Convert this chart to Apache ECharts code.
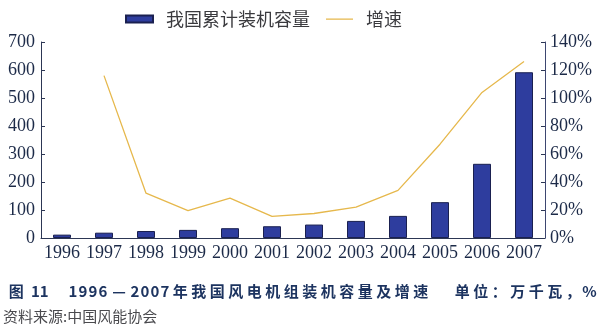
<!DOCTYPE html>
<html>
<head>
<meta charset="utf-8">
<script src="https://cdn.jsdelivr.net/npm/echarts@6/dist/echarts.min.js"></script>
<style>
  html, body { margin: 0; padding: 0; background: #fff; }
  #chart { width: 600px; height: 328px; }
</style>
</head>
<body>
<div id="chart"></div>
<script>
// Years on the category axis
const years = ['1996', '1997', '1998', '1999', '2000', '2001', '2002', '2003', '2004', '2005', '2006', '2007'];
// Cumulative installed wind capacity, 万千瓦
const capacity = [12, 19, 25, 29, 35, 42, 48, 61, 79, 128, 265, 592];
// Year-on-year growth, %
const growth = [null, 116, 32, 19.5, 28.5, 15.5, 17.5, 22, 34, 67, 104, 126];
// Axis tick settings
const leftTicks = { min: 0, max: 700, interval: 100 };
const rightTicks = { min: 0, max: 140, interval: 20 };

const capName = '我国累计装机容量';
const growthName = '增速';
const captionPieces = [
  { text: '图', x: 7, split: true },
  { text: '11', x: 31, split: false },
  { text: '1996—2007 年我国风电机组装机容量及增速', x: 68, split: true },
  { text: '单位：万千瓦，%', x: 453, split: true }
];
const sourceText = '资料来源:中国风能协会';

const axisColor = '#2c3654';
const labelColor = '#1c2a48';
const serif = '"Liberation Serif", "DejaVu Serif", serif';
const cjk = '"Noto Sans CJK SC", "Noto Sans", sans-serif';

// Spaced caption: each glyph sits centred in its own cell
function pitchOf(ch) {
  if (/[0-9]/.test(ch)) return 10;
  if (ch === '—') return 22;
  if (ch === ' ') return 1;
  if (ch === '%') return 14;
  return 18.5;
}
function captionElements(pieces, y) {
  const els = [];
  const style = {
    fill: '#1d3460',
    font: 'bold 15px ' + cjk,
    textVerticalAlign: 'middle'
  };
  pieces.forEach(p => {
    if (!p.split) {
      els.push({ type: 'text', x: p.x, y: y, style: Object.assign({ text: p.text, textAlign: 'left' }, style) });
      return;
    }
    let x = p.x;
    for (const ch of p.text) {
      const w = pitchOf(ch);
      if (ch !== ' ') {
        els.push({
          type: 'text',
          x: x + w / 2,
          y: y,
          style: Object.assign({ text: ch, textAlign: 'center' }, style)
        });
      }
      x += w;
    }
  });
  return els;
}

// Plain thin line used as the legend key of the growth series
const lineKey = 'path://M0,0H1V0.01H0Z M0,3H30V4.2H0Z M0,7H1V7.01H0Z';

const chart = echarts.init(document.getElementById('chart'), null, { renderer: 'canvas' });

chart.setOption({
  animation: false,
  backgroundColor: '#ffffff',
  grid: { left: 41, right: 55, top: 42, bottom: 90, containLabel: false },
  legend: {
    left: 120,
    top: 5,
    itemWidth: 27,
    itemHeight: 7,
    itemGap: 16,
    data: [
      { name: capName, icon: 'rect' },
      { name: growthName, icon: lineKey }
    ],
    textStyle: {
      fontFamily: cjk,
      fontSize: 18,
      color: '#3a3a3e',
      padding: [0, 0, 0, 8]
    }
  },
  xAxis: {
    type: 'category',
    data: years,
    boundaryGap: true,
    axisLine: { lineStyle: { color: axisColor, width: 1 } },
    axisTick: { inside: true, length: 4, lineStyle: { color: axisColor } },
    axisLabel: {
      margin: 6,
      fontFamily: serif,
      fontSize: 18,
      color: labelColor,
      interval: 0
    }
  },
  yAxis: [
    {
      type: 'value',
      min: leftTicks.min,
      max: leftTicks.max,
      interval: leftTicks.interval,
      axisLine: { show: true, lineStyle: { color: axisColor, width: 1 } },
      axisTick: { show: true, inside: true, length: 4, lineStyle: { color: axisColor } },
      splitLine: { show: false },
      axisLabel: {
        margin: 6,
        fontFamily: serif,
        fontSize: 18,
        color: labelColor
      }
    },
    {
      type: 'value',
      position: 'right',
      min: rightTicks.min,
      max: rightTicks.max,
      interval: rightTicks.interval,
      axisLine: { show: true, lineStyle: { color: '#3d4670', width: 1 } },
      axisTick: { show: true, inside: true, length: 4, lineStyle: { color: axisColor } },
      splitLine: { show: false },
      axisLabel: {
        margin: 5,
        fontFamily: serif,
        fontSize: 18,
        color: labelColor,
        formatter: '{value}%'
      }
    }
  ],
  series: [
    {
      name: capName,
      type: 'bar',
      yAxisIndex: 0,
      data: capacity,
      barWidth: 18,
      itemStyle: {
        color: '#2e3d9e',
        borderColor: '#1a2050',
        borderWidth: 1
      }
    },
    {
      name: growthName,
      type: 'line',
      yAxisIndex: 1,
      data: growth,
      symbol: 'none',
      connectNulls: false,
      lineStyle: { color: '#e6b84c', width: 1.3 },
      itemStyle: { color: '#e6b84c' },
      z: 3
    }
  ],
  graphic: captionElements(captionPieces, 291).concat([
    {
      type: 'text',
      left: 3,
      top: 309,
      style: {
        text: sourceText,
        fill: '#4a4a4e',
        font: '15px ' + cjk
      }
    }
  ])
});
</script>
</body>
</html>
